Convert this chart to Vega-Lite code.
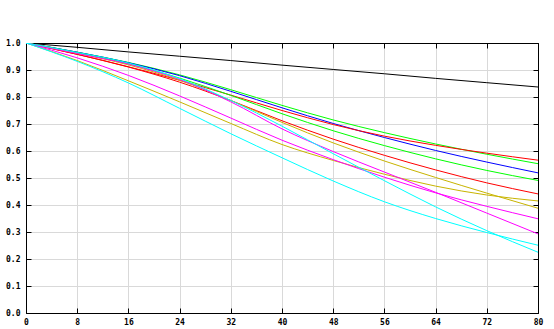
{
  "$schema": "https://vega.github.io/schema/vega-lite/v6.json",
  "width": 512,
  "height": 270,
  "autosize": {"type": "none"},
  "padding": {"left": 26, "top": 43, "right": 16, "bottom": 16},
  "background": "white",
  "config": {
    "view": {"stroke": "black", "strokeWidth": 1},
    "axis": {
      "labelFont": "DejaVu Sans Mono",
      "labelFontSize": 8,
      "labelFontWeight": "bold",
      "labelColor": "black",
      "domainColor": "black",
      "tickColor": "black",
      "gridColor": "#d9d9d9",
      "gridOpacity": 1,
      "title": null
    }
  },
  "data": {"values": [
    {"s":"k","x":0,"y":1},{"s":"k","x":8,"y":0.984},{"s":"k","x":16,"y":0.967},{"s":"k","x":24,"y":0.951},{"s":"k","x":32,"y":0.935},{"s":"k","x":40,"y":0.918},{"s":"k","x":48,"y":0.902},{"s":"k","x":56,"y":0.886},{"s":"k","x":64,"y":0.869},{"s":"k","x":72,"y":0.853},{"s":"k","x":80,"y":0.837},
    {"s":"gA","x":0,"y":1},{"s":"gA","x":8,"y":0.966},{"s":"gA","x":16,"y":0.928},{"s":"gA","x":24,"y":0.882},{"s":"gA","x":32,"y":0.827},{"s":"gA","x":40,"y":0.769},{"s":"gA","x":48,"y":0.715},{"s":"gA","x":56,"y":0.668},{"s":"gA","x":64,"y":0.626},{"s":"gA","x":72,"y":0.588},{"s":"gA","x":80,"y":0.553},
    {"s":"b","x":0,"y":1},{"s":"b","x":8,"y":0.966},{"s":"b","x":16,"y":0.927},{"s":"b","x":24,"y":0.879},{"s":"b","x":32,"y":0.821},{"s":"b","x":40,"y":0.76},{"s":"b","x":48,"y":0.702},{"s":"b","x":56,"y":0.65},{"s":"b","x":64,"y":0.602},{"s":"b","x":72,"y":0.559},{"s":"b","x":80,"y":0.519},
    {"s":"rA","x":0,"y":1},{"s":"rA","x":8,"y":0.958},{"s":"rA","x":16,"y":0.912},{"s":"rA","x":24,"y":0.862},{"s":"rA","x":32,"y":0.807},{"s":"rA","x":40,"y":0.75},{"s":"rA","x":48,"y":0.698},{"s":"rA","x":56,"y":0.655},{"s":"rA","x":64,"y":0.621},{"s":"rA","x":72,"y":0.592},{"s":"rA","x":80,"y":0.566},
    {"s":"gB","x":0,"y":1},{"s":"gB","x":8,"y":0.964},{"s":"gB","x":16,"y":0.923},{"s":"gB","x":24,"y":0.87},{"s":"gB","x":32,"y":0.806},{"s":"gB","x":40,"y":0.738},{"s":"gB","x":48,"y":0.675},{"s":"gB","x":56,"y":0.62},{"s":"gB","x":64,"y":0.571},{"s":"gB","x":72,"y":0.528},{"s":"gB","x":80,"y":0.491},
    {"s":"rB","x":0,"y":1},{"s":"rB","x":8,"y":0.958},{"s":"rB","x":16,"y":0.911},{"s":"rB","x":24,"y":0.855},{"s":"rB","x":32,"y":0.787},{"s":"rB","x":40,"y":0.712},{"s":"rB","x":48,"y":0.644},{"s":"rB","x":56,"y":0.584},{"s":"rB","x":64,"y":0.53},{"s":"rB","x":72,"y":0.482},{"s":"rB","x":80,"y":0.441},
    {"s":"yA","x":0,"y":1},{"s":"yA","x":8,"y":0.962},{"s":"yA","x":16,"y":0.919},{"s":"yA","x":24,"y":0.862},{"s":"yA","x":32,"y":0.787},{"s":"yA","x":40,"y":0.706},{"s":"yA","x":48,"y":0.63},{"s":"yA","x":56,"y":0.563},{"s":"yA","x":64,"y":0.502},{"s":"yA","x":72,"y":0.444},{"s":"yA","x":80,"y":0.388},
    {"s":"yB","x":0,"y":1},{"s":"yB","x":8,"y":0.935},{"s":"yB","x":16,"y":0.86},{"s":"yB","x":24,"y":0.782},{"s":"yB","x":32,"y":0.702},{"s":"yB","x":40,"y":0.624},{"s":"yB","x":48,"y":0.565},{"s":"yB","x":56,"y":0.514},{"s":"yB","x":64,"y":0.47},{"s":"yB","x":72,"y":0.437},{"s":"yB","x":80,"y":0.415},
    {"s":"mA","x":0,"y":1},{"s":"mA","x":8,"y":0.961},{"s":"mA","x":16,"y":0.922},{"s":"mA","x":24,"y":0.865},{"s":"mA","x":32,"y":0.782},{"s":"mA","x":40,"y":0.682},{"s":"mA","x":48,"y":0.598},{"s":"mA","x":56,"y":0.522},{"s":"mA","x":64,"y":0.447},{"s":"mA","x":72,"y":0.37},{"s":"mA","x":80,"y":0.293},
    {"s":"mB","x":0,"y":1},{"s":"mB","x":8,"y":0.945},{"s":"mB","x":16,"y":0.88},{"s":"mB","x":24,"y":0.804},{"s":"mB","x":32,"y":0.722},{"s":"mB","x":40,"y":0.64},{"s":"mB","x":48,"y":0.568},{"s":"mB","x":56,"y":0.503},{"s":"mB","x":64,"y":0.445},{"s":"mB","x":72,"y":0.395},{"s":"mB","x":80,"y":0.349},
    {"s":"cA","x":0,"y":1},{"s":"cA","x":8,"y":0.965},{"s":"cA","x":16,"y":0.926},{"s":"cA","x":24,"y":0.868},{"s":"cA","x":32,"y":0.787},{"s":"cA","x":40,"y":0.692},{"s":"cA","x":48,"y":0.59},{"s":"cA","x":56,"y":0.49},{"s":"cA","x":64,"y":0.393},{"s":"cA","x":72,"y":0.305},{"s":"cA","x":80,"y":0.225},
    {"s":"cB","x":0,"y":1},{"s":"cB","x":8,"y":0.932},{"s":"cB","x":16,"y":0.852},{"s":"cB","x":24,"y":0.758},{"s":"cB","x":32,"y":0.664},{"s":"cB","x":40,"y":0.575},{"s":"cB","x":48,"y":0.489},{"s":"cB","x":56,"y":0.412},{"s":"cB","x":64,"y":0.35},{"s":"cB","x":72,"y":0.298},{"s":"cB","x":80,"y":0.251}
  ]},
  "layer": [
    {
      "mark": {"type": "line", "strokeWidth": 1, "interpolate": "monotone", "clip": true},
      "encoding": {
        "x": {"field": "x", "type": "quantitative", "scale": {"domain": [0, 80], "nice": false, "zero": false},
              "axis": {"orient": "bottom", "values": [0,8,16,24,32,40,48,56,64,72,80], "grid": true, "tickSize": -5, "labelPadding": 10, "labelFlush": false}},
        "y": {"field": "y", "type": "quantitative", "scale": {"domain": [0, 1], "nice": false},
              "axis": {"orient": "left", "values": [0,0.1,0.2,0.3,0.4,0.5,0.6,0.7,0.8,0.9,1], "format": ".1f", "grid": true, "tickSize": -5, "labelPadding": 11}},
        "color": {"field": "s", "type": "nominal", "legend": null,
                  "scale": {"domain": ["k","gA","b","rA","gB","rB","yA","yB","mA","mB","cA","cB"],
                            "range": ["#000000","#00ff00","#0000ff","#ff0000","#00ff00","#ff0000","#c8b400","#c8b400","#ff00ff","#ff00ff","#00ffff","#00ffff"]}}
      }
    },
    {
      "mark": {"type": "line", "strokeOpacity": 0},
      "encoding": {
        "x": {"field": "x", "type": "quantitative", "axis": {"orient": "top", "values": [0,8,16,24,32,40,48,56,64,72,80], "labels": false, "grid": false, "tickSize": -5}},
        "y": {"field": "y", "type": "quantitative", "axis": {"orient": "right", "values": [0,0.1,0.2,0.3,0.4,0.5,0.6,0.7,0.8,0.9,1], "labels": false, "grid": false, "tickSize": -5}},
        "detail": {"field": "s"}
      }
    }
  ],
  "resolve": {"axis": {"x": "independent", "y": "independent"}}
}
